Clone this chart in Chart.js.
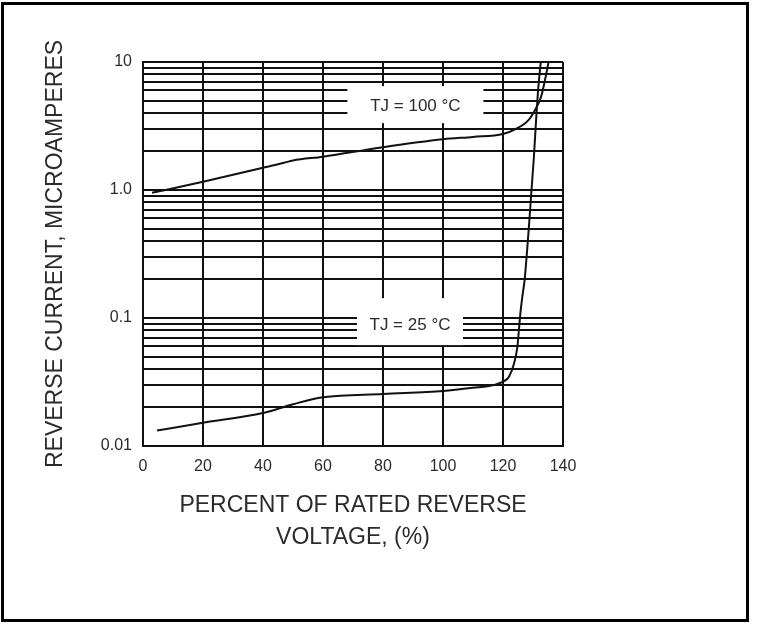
<!DOCTYPE html>
<html>
<head>
<meta charset="utf-8">
<script src="https://cdn.jsdelivr.net/npm/chart.js@4.4.1/dist/chart.umd.min.js"></script>
<style>
html, body { margin: 0; padding: 0; background: #fff; }
#wrap { position: relative; width: 758px; height: 624px; }
#wrap canvas { position: absolute; left: 0; top: 0; }
#frame { position: absolute; left: 1px; top: 2px; width: 742px; height: 614px; border: 3px solid #000; pointer-events: none; }
</style>
</head>
<body>
<div id="wrap">
  <canvas id="leakage" width="758" height="624"></canvas>
  <div id="frame"></div>
</div>
<script>
// percent of rated reverse voltage
const pct100 = [3, 20, 40, 47, 50, 60, 80, 100, 110, 120, 124, 128.5, 131, 132.7, 134, 135.2];
const amps100 = [0.95, 1.16, 1.49, 1.63, 1.70, 1.82, 2.16, 2.49, 2.6, 2.74, 2.98, 3.52, 4.35, 5.36, 7.23, 10];

const pct25 = [4.7, 20, 40, 50, 60, 80, 100, 110, 117, 120, 122, 123.7, 124.8, 125.3, 125.8, 126.6, 127.2, 128.8, 129.5, 130.3, 131.1, 131.8, 132.6];
const amps25 = [0.0132, 0.0152, 0.0181, 0.0212, 0.024, 0.0255, 0.0269, 0.0285, 0.030, 0.0318, 0.0348, 0.0443, 0.0597, 0.0806, 0.109, 0.156, 0.198, 0.583, 1.0, 1.82, 3.74, 6.42, 10];

const seriesNames = ['TJ = 100 °C', 'TJ = 25 °C'];
const xTicks = [0, 20, 40, 60, 80, 100, 120, 140];
const yTickValues = [0.01, 0.1, 1, 10];
const yTickLabels = ['0.01', '0.1', '1.0', '10'];

// every 1..9 line of each decade
const yGrid = [0.01, 0.1, 1].flatMap(d => [1, 2, 3, 4, 5, 6, 7, 8, 9].map(m => +(m * d).toPrecision(3))).concat([10]);

const ink = '#111';
const textColor = '#2b2b2b';
const family = '"Liberation Sans", Arial, sans-serif';

const toPoints = (xs, ys) => xs.map((x, i) => ({ x: x, y: ys[i] }));

// white boxes with the curve names
const tags = [
  { text: seriesNames[0], x: 90.8, y: 4.48, w: 136, h: 37, dy: -2 },
  { text: seriesNames[1], x: 89, y: 0.088, w: 106, h: 47, dy: -3.5 }
];

const tagPlugin = {
  id: 'tags',
  afterDatasetsDraw(chart) {
    const { ctx, scales } = chart;
    ctx.save();
    ctx.font = '17px ' + family;
    ctx.textAlign = 'center';
    ctx.textBaseline = 'middle';
    tags.forEach(t => {
      const px = scales.x.getPixelForValue(t.x);
      const py = scales.y.getPixelForValue(t.y);
      ctx.fillStyle = '#fff';
      ctx.fillRect(px - t.w / 2, py + t.dy - t.h / 2, t.w, t.h);
      ctx.fillStyle = textColor;
      ctx.fillText(t.text, px, py);
    });
    ctx.restore();
  }
};

const ctx = document.getElementById('leakage').getContext('2d');
const leakageChart = new Chart(ctx, {
  type: 'line',
  data: {
    datasets: [{
      label: seriesNames[0],
      data: toPoints(pct100, amps100),
      borderColor: ink,
      borderWidth: 2,
      pointRadius: 0,
      cubicInterpolationMode: 'monotone'
    }, {
      label: seriesNames[1],
      data: toPoints(pct25, amps25),
      borderColor: ink,
      borderWidth: 2,
      pointRadius: 0,
      cubicInterpolationMode: 'monotone'
    }]
  },
  options: {
    responsive: false,
    animation: false,
    devicePixelRatio: 1,
    layout: {
      padding: { left: 42, top: 62, right: 195, bottom: 70 }
    },
    plugins: {
      legend: { display: false },
      tooltip: { enabled: false }
    },
    scales: {
      x: {
        type: 'linear',
        min: 0,
        max: 140,
        afterBuildTicks: s => { s.ticks = xTicks.map(v => ({ value: v })); },
        afterFit: s => { s.height = 108; },
        grid: { color: ink, lineWidth: 2, drawTicks: false },
        border: { color: ink, width: 2 },
        ticks: {
          padding: 11,
          color: textColor,
          font: { family: family, size: 16 }
        },
        title: {
          display: true,
          text: ['PERCENT OF RATED REVERSE', 'VOLTAGE, (%)'],
          color: textColor,
          font: { family: family, size: 23, lineHeight: 1.4 },
          padding: { top: 0, bottom: 0 }
        }
      },
      y: {
        type: 'logarithmic',
        min: 0.01,
        max: 10,
        afterBuildTicks: s => { s.ticks = yGrid.map(v => ({ value: v })); },
        afterFit: s => { s.width = 101; },
        grid: { color: ink, lineWidth: 2, drawTicks: false },
        border: { color: ink, width: 2 },
        ticks: {
          autoSkip: false,
          padding: 11,
          color: textColor,
          font: { family: family, size: 16 },
          callback: v => {
            const i = yTickValues.findIndex(t => Math.abs(t - v) < t * 1e-6);
            return i >= 0 ? yTickLabels[i] : '';
          }
        },
        title: {
          display: true,
          text: 'REVERSE CURRENT, MICROAMPERES',
          color: textColor,
          font: { family: family, size: 23 },
          padding: { top: 0, bottom: 0 }
        }
      }
    }
  },
  plugins: [tagPlugin]
});
</script>
</body>
</html>
